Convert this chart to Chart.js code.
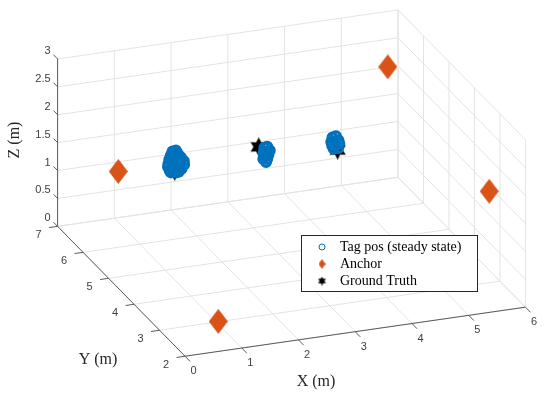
<!DOCTYPE html>
<html>
<head>
<meta charset="utf-8">
<script src="https://cdn.jsdelivr.net/npm/chart.js@4.4.0/dist/chart.umd.min.js"></script>
<style>
  body { margin: 0; background: #fff; }
  #wrap { width: 550px; height: 395px; position: relative; }
</style>
</head>
<body>
<div id="wrap"><canvas id="grafica"></canvas></div>
<script>
// ticks de los ejes
const xTicks = [0, 1, 2, 3, 4, 5, 6];
const yTicks = [2, 3, 4, 5, 6, 7];
const zTicks = [0, 0.5, 1, 1.5, 2, 2.5, 3];
const zTickLabels = ['0', '0.5', '1', '1.5', '2', '2.5', '3'];

// posiciones del tag (estado estable), tres grupos
const tagX = [1.80, 1.87, 1.76, 1.83, 1.90, 1.74, 1.81, 1.88, 1.95, 1.72, 1.79, 1.86, 1.93, 2.00, 1.73, 1.80, 1.87, 1.94, 2.01, 1.75, 1.82, 1.89, 1.96, 1.78, 1.85, 1.91,
              3.42, 3.48, 3.40, 3.47, 3.52, 3.42, 3.49, 3.41, 3.47, 3.44,
              4.62, 4.69, 4.59, 4.66, 4.73, 4.61, 4.68, 4.75, 4.64, 4.71];
const tagY = [6.50, 6.52, 6.48, 6.50, 6.51, 6.49, 6.50, 6.52, 6.50, 6.48, 6.50, 6.51, 6.49, 6.50, 6.52, 6.50, 6.48, 6.50, 6.51, 6.50, 6.49, 6.50, 6.50, 6.52, 6.49, 6.50,
              6.50, 6.52, 6.48, 6.50, 6.51, 6.49, 6.50, 6.52, 6.50, 6.48,
              6.50, 6.52, 6.48, 6.50, 6.51, 6.49, 6.50, 6.52, 6.50, 6.48];
const tagZ = [1.31, 1.31, 1.25, 1.25, 1.25, 1.18, 1.18, 1.18, 1.18, 1.11, 1.11, 1.11, 1.11, 1.11, 1.04, 1.04, 1.04, 1.04, 1.04, 0.98, 0.98, 0.98, 0.98, 0.93, 0.93, 0.93,
              1.14, 1.14, 1.07, 1.07, 1.07, 1.00, 1.00, 0.93, 0.93, 0.89,
              1.15, 1.15, 1.08, 1.08, 1.08, 1.01, 1.01, 1.01, 0.95, 0.95];

// anclas
const anchorX = [0.89, 5.19, 6.08, 0.99];
const anchorY = [6.60, 5.60, 3.60, 2.90];
const anchorZ = [1.04, 2.75, 1.32, 0.06];

// ground truth
const gtX = [1.84, 3.32, 4.71];
const gtY = [6.50, 6.50, 6.50];
const gtZ = [0.95, 1.17, 0.91];

// proyeccion ortografica de la vista 3D (px por metro)
const vista = { x0: 182.5, y0: 362.5, ax: 58.33, ay: -8.5, bx: -26.2, by: -27, cz: -58 };
function proyectar(x, y, z) {
    return {
        x: vista.x0 + x * vista.ax + (y - 2) * vista.bx,
        y: vista.y0 + x * vista.ay + (y - 2) * vista.by + z * vista.cz
    };
}
function puntos(xs, ys, zs) {
    return xs.map((v, i) => proyectar(v, ys[i], zs[i]));
}

// marcadores propios: rombo y hexagrama
function crearRombo(w, h, color) {
    const c = document.createElement('canvas');
    c.width = w; c.height = h;
    const g = c.getContext('2d');
    g.fillStyle = color;
    g.beginPath();
    g.moveTo(w / 2, 0); g.lineTo(w, h / 2); g.lineTo(w / 2, h); g.lineTo(0, h / 2);
    g.closePath(); g.fill();
    return c;
}
function crearEstrella(s, color) {
    const c = document.createElement('canvas');
    c.width = s; c.height = s;
    const g = c.getContext('2d');
    const r = s / 2, ri = r * 0.55;
    g.fillStyle = color;
    g.beginPath();
    for (let k = 0; k < 12; k++) {
        const a = -Math.PI / 2 + k * Math.PI / 6;
        const rr = k % 2 === 0 ? r : ri;
        g.lineTo(r + rr * Math.cos(a), r + rr * Math.sin(a));
    }
    g.closePath(); g.fill();
    return c;
}
const azul = '#0072BD', naranja = '#D95319';
const rombo = crearRombo(19, 25, naranja);
const estrella = crearEstrella(19, '#000');
const romboChico = crearRombo(7, 10, naranja);
const estrellaChica = crearEstrella(9, '#000');

// caja 3D: rejilla, ejes, ticks y textos
const caja3D = {
    id: 'caja3D',
    beforeDatasetsDraw(chart) {
        const ctx = chart.ctx, sx = chart.scales.x, sy = chart.scales.y;
        const P = (x, y, z) => {
            const p = proyectar(x, y, z);
            return [sx.getPixelForValue(p.x), sy.getPixelForValue(p.y)];
        };
        const linea = (a, b, color, w) => {
            ctx.strokeStyle = color; ctx.lineWidth = w;
            ctx.beginPath(); ctx.moveTo(a[0], a[1]); ctx.lineTo(b[0], b[1]); ctx.stroke();
        };
        const gris = '#e3e3e3';
        const x0 = xTicks[0], x1 = xTicks[xTicks.length - 1];
        const y0 = yTicks[0], y1 = yTicks[yTicks.length - 1];
        const z0 = zTicks[0], z1 = zTicks[zTicks.length - 1];
        ctx.save();
        // piso
        xTicks.forEach(x => linea(P(x, y0, z0), P(x, y1, z0), gris, 1));
        yTicks.forEach(y => linea(P(x0, y, z0), P(x1, y, z0), gris, 1));
        // pared del fondo (y = max)
        xTicks.forEach(x => linea(P(x, y1, z0), P(x, y1, z1), gris, 1));
        zTicks.forEach(z => linea(P(x0, y1, z), P(x1, y1, z), gris, 1));
        // pared derecha (x = max)
        yTicks.forEach(y => linea(P(x1, y, z0), P(x1, y, z1), gris, 1));
        zTicks.forEach(z => linea(P(x1, y0, z), P(x1, y1, z), gris, 1));

        // ejes
        const eje = '#5a5a5a';
        linea(P(x0, y1, z0), P(x0, y1, z1), eje, 1);
        linea(P(x0, y1, z0), P(x0, y0, z0), eje, 1);
        linea(P(x0, y0, z0), P(x1, y0, z0), eje, 1);

        ctx.fillStyle = '#404040';
        ctx.font = '11px "Liberation Sans", Arial, sans-serif';
        ctx.textBaseline = 'middle';
        // ticks z
        ctx.textAlign = 'right';
        zTicks.forEach((z, i) => {
            const a = P(x0, y1, z), b = P(x0, y1 + 0.16, z);
            linea(a, b, eje, 1);
            ctx.fillText(zTickLabels[i], a[0] - 7, a[1] - 8);
        });
        // ticks y
        ctx.textAlign = 'center';
        yTicks.forEach(y => {
            const a = P(x0, y, z0), b = P(x0 - 0.15, y, z0);
            linea(a, b, eje, 1);
            ctx.fillText(String(y), a[0] - 19, a[1] + 9);
        });
        // ticks x
        xTicks.forEach(x => {
            const a = P(x, y0, z0), b = P(x, y0 - 0.2, z0);
            linea(a, b, eje, 1);
            ctx.fillText(String(x), a[0] + 8.5, a[1] + 15);
        });

        // titulos de ejes
        ctx.fillStyle = '#262626';
        ctx.font = '16px "Liberation Serif", "Times New Roman", serif';
        ctx.fillText('X (m)', 316, 382);
        ctx.fillText('Y (m)', 98, 360);
        ctx.save();
        ctx.translate(15, 140);
        ctx.rotate(-Math.PI / 2);
        ctx.fillText('Z (m)', 0, 0);
        ctx.restore();
        ctx.restore();
    },
    afterDatasetsDraw(chart) {
        // leyenda dentro del area
        const ctx = chart.ctx;
        ctx.save();
        ctx.fillStyle = '#fff';
        ctx.fillRect(301, 235, 176, 56);
        ctx.strokeStyle = '#262626';
        ctx.lineWidth = 1;
        ctx.strokeRect(301.5, 235.5, 176, 56);
        ctx.strokeStyle = azul;
        ctx.lineWidth = 1;
        ctx.beginPath(); ctx.arc(322, 247, 3, 0, Math.PI * 2); ctx.stroke();
        ctx.drawImage(romboChico, 322 - 3.5, 264 - 5);
        ctx.drawImage(estrellaChica, 322 - 4.5, 281 - 4.5);
        ctx.fillStyle = '#000';
        ctx.font = '14px "Liberation Serif", "Times New Roman", serif';
        ctx.textAlign = 'left';
        ctx.textBaseline = 'middle';
        chart.data.datasets.forEach((ds, i) => {
            ctx.fillText(ds.label, 340, 247 + i * 17);
        });
        ctx.restore();
    }
};

const ctx = document.getElementById('grafica').getContext('2d');
const grafica = new Chart(ctx, {
    type: 'scatter',
    data: {
        datasets: [{
            label: 'Tag pos (steady state)',
            data: puntos(tagX, tagY, tagZ),
            borderColor: azul,
            backgroundColor: 'rgba(0,0,0,0)',
            borderWidth: 3,
            pointRadius: 4.5
        }, {
            label: 'Anchor',
            data: puntos(anchorX, anchorY, anchorZ),
            pointStyle: rombo
        }, {
            label: 'Ground Truth',
            data: puntos(gtX, gtY, gtZ),
            pointStyle: estrella
        }]
    },
    options: {
        responsive: true,
        maintainAspectRatio: false,
        animation: false,
        events: [],
        layout: { padding: 0 },
        scales: {
            x: { type: 'linear', min: 0, max: 550, display: false },
            y: { type: 'linear', min: 0, max: 395, reverse: true, display: false }
        },
        plugins: {
            legend: { display: false },
            tooltip: { enabled: false }
        }
    },
    plugins: [caja3D]
});
</script>
</body>
</html>
